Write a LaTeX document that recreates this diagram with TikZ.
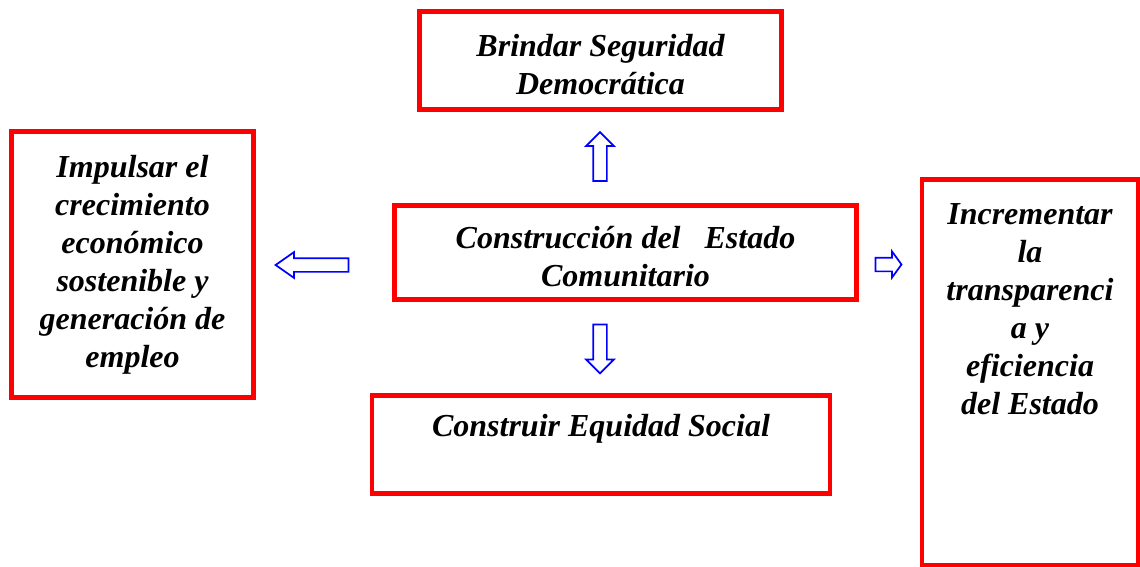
\documentclass[tikz,border=0pt]{standalone}
\usepackage{fontspec}
\setmainfont{Liberation Serif}
\usetikzlibrary{positioning, shapes.arrows}

\tikzset{
    redbox/.style={draw=red, line width=3.6pt, inner sep=0pt},
    boxtext/.style={font=\fontsize{24}{28.5}\selectfont\bfseries\itshape, align=center, inner sep=0pt},
    blockarrow/.style={single arrow, draw=blue, line width=1.3pt, fill=white, inner xsep=0pt, inner ysep=4.5pt, single arrow head extend=5.25pt}
}

\begin{document}
\begin{tikzpicture}[x=0.75pt, y=-0.75pt]
    \useasboundingbox (0,0) rectangle (1140,567);
    % recuadros
    \node(seguridad)[redbox, boxtext, minimum width=272pt, minimum height=73pt] at (600.5,60.5) {\rule{0pt}{22pt}Brindar Seguridad\\Democrática};
    \node(crecimiento)[redbox, boxtext, minimum width=181pt, minimum height=200pt] at (132.5,264.5) {Impulsar el\\crecimiento\\económico\\sostenible y\\generación de\\empleo};
    \node(estado)[redbox, boxtext, minimum width=346pt, minimum height=71pt] at (625.5,252.5) {\rule{0pt}{22.5pt}Construcción del\ \ \ Estado\\Comunitario};
    \node(equidad)[redbox, boxtext, minimum width=343.5pt, minimum height=73pt] at (601,444.5) {Construir Equidad Social\\\mbox{}};
    \node(transparencia)[redbox, minimum width=162pt, minimum height=289pt] at (1030,372.5) {};
    \node(transtext)[boxtext, below=19.5pt of transparencia.north] {Incrementar\\la\\transparenci\\a y\\eficiencia\\del Estado};
    % flechas
    \node(arriba)[blockarrow, minimum height=36.75pt, minimum width=19.5pt, rotate=90] at (600,160) {};
    \node(abajo)[blockarrow, minimum height=36.75pt, minimum width=19.5pt, rotate=-90] at (600,345.5) {};
    \node(izquierda)[blockarrow, minimum height=54.75pt, minimum width=18pt, single arrow head extend=4.5pt, single arrow tip angle=70, rotate=180] at (317,265) {};
    \node(derecha)[blockarrow, minimum height=19.5pt, minimum width=18.75pt, single arrow head extend=4.6pt, single arrow tip angle=108] at (886,264.5) {};
\end{tikzpicture}
\end{document}
